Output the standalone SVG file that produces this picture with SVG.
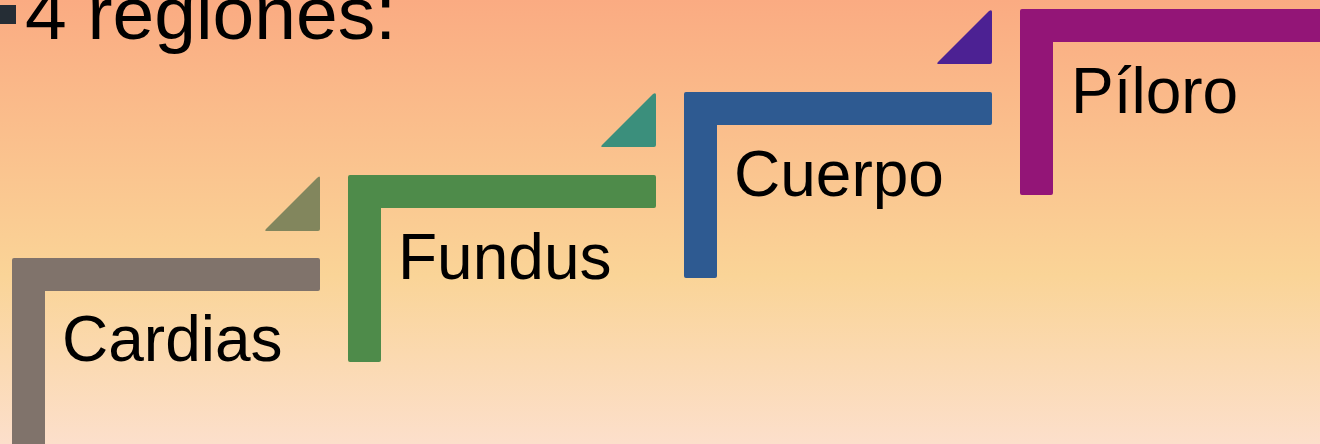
<svg xmlns="http://www.w3.org/2000/svg" width="1320" height="444" viewBox="0 0 1320 444">
  <defs>
    <linearGradient id="bg" x1="0" y1="0" x2="0" y2="1">
      <stop offset="0" stop-color="#faab82"/>
      <stop offset="0.62" stop-color="#fad497"/>
      <stop offset="1" stop-color="#fcdfcb"/>
    </linearGradient>
  </defs>
  <style>
    .lbl { font-family: "Liberation Sans", Arial, sans-serif; font-size: 64px; fill: #000; }
    .title { font-family: "Liberation Sans", Arial, sans-serif; font-size: 75px; fill: #000; }
  </style>
  <rect x="0" y="0" width="1320" height="444" fill="url(#bg)"/>
  <g id="title">
    <rect x="0" y="5" width="16" height="19" fill="#252d35"/>
    <text class="title" x="25" y="39">4 regiones:</text>
  </g>
  <g id="cardias">
    <path d="M14,258 H318 Q320,258 320,260 V289 Q320,291 318,291 H45 V444 H12 V260 Q12,258 14,258 Z" fill="#80736b"/>
    <text class="lbl" x="62" y="361">Cardias</text>
  </g>
  <g id="fundus">
    <path d="M320,178 V229 Q320,231 318,231 H267 Q264,231 266,229 L317,178 Q320,175 320,178 Z" fill="#82865d"/>
    <path d="M350,175 H654 Q656,175 656,177 V206 Q656,208 654,208 H381 V360 Q381,362 379,362 H350 Q348,362 348,360 V177 Q348,175 350,175 Z" fill="#4e8b4a"/>
    <text class="lbl" x="398" y="279">Fundus</text>
  </g>
  <g id="cuerpo">
    <path d="M656,95 V145 Q656,147 654,147 H603 Q600,147 602,145 L653,94 Q656,92 656,95 Z" fill="#3b8f7c"/>
    <path d="M686,92 H990 Q992,92 992,94 V123 Q992,125 990,125 H717 V276 Q717,278 715,278 H686 Q684,278 684,276 V94 Q684,92 686,92 Z" fill="#2e5a91"/>
    <text class="lbl" x="734" y="196">Cuerpo</text>
  </g>
  <g id="piloro">
    <path d="M992,12 V62 Q992,64 990,64 H939 Q936,64 938,62 L989,11 Q992,9 992,12 Z" fill="#4c2193"/>
    <path d="M1022,9 H1320 V42 H1053 V193 Q1053,195 1051,195 H1022 Q1020,195 1020,193 V11 Q1020,9 1022,9 Z" fill="#931577"/>
    <text class="lbl" x="1071" y="113">Píloro</text>
  </g>
</svg>
